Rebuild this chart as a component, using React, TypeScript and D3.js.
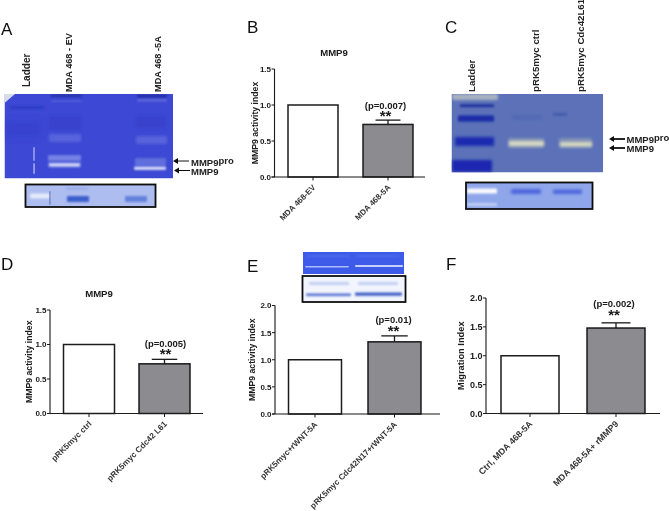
import React from "react";
import * as d3 from "d3";

// ---------- chart data ----------
const bCategories = ["MDA 468-EV", "MDA 468-5A"];
const bValues = [1.0, 0.73];
const bErrorTops = [1.0, 0.79];
const bTicks = [0, 0.5, 1.0, 1.5];

const dCategories = ["pRK5myc ctrl", "pRK5myc Cdc42 L61"];
const dValues = [1.0, 0.72];
const dErrorTops = [1.0, 0.785];
const dTicks = [0, 0.5, 1.0, 1.5];

const eCategories = ["pRK5myc+rWNT-5A", "pRK5myc Cdc42N17+rWNT-5A"];
const eValues = [1.0, 1.33];
const eErrorTops = [1.0, 1.44];
const eTicks = [0, 0.5, 1.0, 1.5, 2.0];

const fCategories = ["Ctrl, MDA 468-5A", "MDA 468-5A+ rMMP9"];
const fValues = [1.0, 1.48];
const fErrorTops = [1.0, 1.57];
const fTicks = [0, 0.5, 1.0, 1.5, 2.0];

const FONT = "'Liberation Sans', Arial, sans-serif";
const INK = "#1a1a1a";

type PanelProps = {
  categories: string[]; values: number[]; errorTops: number[]; ticks: number[];
  yMax: number; axisX: number; axisEnd: number; yTop: number; yBase: number;
  barLeft: number; barRight: number; barWidth: number;
  yLabel: string; yLabelX: number; title?: string; titleX?: number; titleY?: number;
  pText: string; pX: number; pY: number; starY: number;
  tickFont: number; catFont: number; labelFont: number; pFont: number;
};

function BarPanel(p: PanelProps) {
  const y = d3.scaleLinear().domain([0, p.yMax]).range([p.yBase, p.yTop]);
  const span = p.barRight - p.barLeft;
  const step = span - p.barWidth;
  const x = d3.scaleBand<string>()
    .domain(p.categories)
    .range([p.barLeft, p.barRight])
    .paddingInner(1 - p.barWidth / step)
    .paddingOuter(0);
  const fills = ["#ffffff", "#8c8c90"];
  const sw = 1.5;
  return (
    <g fontFamily={FONT} fill={INK}>
      {p.title && (
        <text x={p.titleX} y={p.titleY} textAnchor="middle" fontSize={9.6} fontWeight="bold">{p.title}</text>
      )}
      {p.categories.map((c, i) => {
        const bx = x(c)!;
        const cx = bx + x.bandwidth() / 2;
        const capW = x.bandwidth() / 4;
        return (
          <g key={c}>
            {p.errorTops[i] > p.values[i] && (
              <g stroke={INK} strokeWidth={sw - 0.2} fill="none">
                <line x1={cx} x2={cx} y1={y(p.values[i])} y2={y(p.errorTops[i])} />
                <line x1={cx - capW} x2={cx + capW} y1={y(p.errorTops[i])} y2={y(p.errorTops[i])} />
              </g>
            )}
            <rect x={bx} width={x.bandwidth()} y={y(p.values[i])} height={p.yBase - y(p.values[i])}
              fill={fills[i]} stroke={INK} strokeWidth={sw} />
            <line x1={cx} x2={cx} y1={p.yBase} y2={p.yBase + 3.5} stroke={INK} strokeWidth={1} />
            <text transform={`translate(${cx + 3},${p.yBase + 11}) rotate(-45)`} textAnchor="end"
              fontSize={p.catFont} fontWeight="bold" fill="#333">{c}</text>
          </g>
        );
      })}
      <line x1={p.axisX} x2={p.axisX} y1={p.yTop} y2={p.yBase} stroke={INK} strokeWidth={1.1} />
      <line x1={p.axisX - 3} x2={p.axisEnd} y1={p.yBase} y2={p.yBase} stroke={INK} strokeWidth={1.1} />
      {p.ticks.map((t) => (
        <g key={t}>
          <line x1={p.axisX - 3} x2={p.axisX} y1={y(t)} y2={y(t)} stroke={INK} strokeWidth={1} />
          <text x={p.axisX - 3.5} y={y(t) + p.tickFont * 0.36} textAnchor="end" fontSize={p.tickFont} fontWeight="bold">
            {d3.format(".1f")(t)}
          </text>
        </g>
      ))}
      <text transform={`translate(${p.yLabelX},${(p.yTop + p.yBase) / 2}) rotate(-90)`} textAnchor="middle"
        fontSize={p.labelFont} fontWeight="bold">{p.yLabel}</text>
      <text x={p.pX} y={p.pY} textAnchor="middle" fontSize={p.pFont} fontWeight="bold">{p.pText}</text>
      <text x={p.pX} y={p.starY} textAnchor="middle" fontSize={15} fontWeight="bold">**</text>
    </g>
  );
}

// ---------- gel artwork (photographic insets, not data) ----------
type Band = [number, number, number, number, string, number?, number?];

function Gel({ id, x, y, w, h, base, bands, border }:
  { id: string; x: number; y: number; w: number; h: number; base: string; bands: Band[]; border?: number }) {
  return (
    <g>
      <clipPath id={id}><rect x={x} y={y} width={w} height={h} /></clipPath>
      <g clipPath={`url(#${id})`}>
        <rect x={x} y={y} width={w} height={h} fill={base} />
        {bands.map((b, i) => (
          <rect key={i} x={b[0]} y={b[1]} width={b[2]} height={b[3]} fill={b[4]} opacity={b[5] ?? 1}
            filter={`url(#blur${b[6] ?? 1})`} rx={1} />
        ))}
      </g>
      {border && <rect x={x} y={y} width={w} height={h} fill="none" stroke="#111" strokeWidth={border} />}
    </g>
  );
}

const gelABands: Band[] = [
  [10, 106, 34, 3, "#2530b8", 0.55, 1],
  [5, 122, 36, 14, "#2f3ac4", 0.4, 3],
  [51, 94, 31, 3.5, "#2630a8", 0.8, 1],
  [51, 100, 31, 2, "#6a78e0", 0.45, 1],
  [49, 116, 32, 14, "#2e38c0", 0.35, 2],
  [49, 134, 32, 8, "#6e7ce4", 0.55, 2],
  [48, 155, 33, 6, "#8794ea", 0.75, 1],
  [48, 161, 33, 7, "#6472dc", 0.8, 1],
  [49, 163.5, 31, 2.8, "#eef1ff", 0.95, 1],
  [137, 94.5, 30, 3, "#1e2aa0", 0.9, 1],
  [137, 99, 30, 2.5, "#7c88e4", 0.55, 1],
  [136, 116, 30, 12, "#2e38c0", 0.35, 2],
  [136, 136, 31, 8, "#6e7ce4", 0.55, 2],
  [135, 158, 31, 8, "#717fe2", 0.7, 1],
  [134, 166.8, 32, 3, "#eef1ff", 0.95, 1],
  [33.5, 147, 1, 14, "#dfe6ff", 0.9, 0],
  [33.5, 163, 1.1, 11, "#dfe6ff", 0.9, 0],
];
const gelAStrip: Band[] = [
  [30, 193.5, 20, 5, "#eef2ff", 0.85, 1],
  [49.5, 191, 0.9, 14, "#2a3a90", 0.7, 0],
  [66, 187, 22, 3, "#90a4e8", 0.6, 1],
  [67, 196, 22, 6, "#3055c8", 0.9, 1],
  [125, 196, 22, 6, "#5578d8", 0.85, 1],
];
const gelCBands: Band[] = [
  [452, 94, 46, 6, "#c4cbc4", 0.75, 2],
  [460, 104.5, 34, 2.4, "#1c2a9a", 1, 1],
  [458, 115.5, 36, 6, "#1a2aa8", 1, 1],
  [455, 137, 39, 9, "#1c2ab0", 1, 2],
  [452, 160, 40, 12, "#1a28b0", 1, 2],
  [508, 138, 36, 10, "#a8b0b4", 0.5, 2],
  [509, 141, 35, 5, "#e6e6c6", 0.85, 2],
  [559, 138, 33, 10, "#a8b0b4", 0.5, 2],
  [560, 142, 32, 4.5, "#e6e6c6", 0.85, 2],
  [512, 115, 30, 5, "#4a5cb0", 0.3, 2],
  [553, 113.5, 14, 1.8, "#30409c", 0.7, 1],
];
const gelCStrip: Band[] = [
  [467, 188.5, 30, 5, "#ffffff", 0.95, 1],
  [467, 203, 30, 3, "#dfe7ff", 0.6, 1],
  [511, 189, 30, 5, "#3e55d8", 0.8, 2],
  [553, 189.5, 29, 4.5, "#3e55d8", 0.8, 2],
];
const gelETop: Band[] = [
  [305, 266, 44, 1.6, "#c8d4ff", 0.8, 0],
  [355, 265, 48, 2, "#d4deff", 0.9, 0],
  [306, 255, 44, 2, "#6a82f0", 0.4, 1],
  [356, 255, 44, 2, "#6a82f0", 0.4, 1],
];
const gelEStrip: Band[] = [
  [309, 282, 40, 3, "#b0c0ec", 0.7, 1],
  [358, 282, 40, 3, "#b0c0ec", 0.7, 1],
  [306, 293.5, 45, 2.6, "#4460cc", 0.9, 1],
  [355, 292.5, 47, 3.2, "#3454c4", 0.95, 1],
];

function Arrow({ x1, x2, y, w, head }: { x1: number; x2: number; y: number; w: number; head: number }) {
  return (
    <g fill="#111">
      <line x1={x1 + head} x2={x2} y1={y} y2={y} stroke="#111" strokeWidth={w} />
      <path d={`M${x1},${y} L${x1 + head},${y - head * 0.6} L${x1 + head},${y + head * 0.6} Z`} />
    </g>
  );
}

function VLabel({ x, y, children, size = 9.7 }: { x: number; y: number; children: string; size?: number }) {
  return (
    <text transform={`translate(${x},${y}) rotate(-90)`} fontFamily={FONT} fontSize={size} fontWeight="bold" fill="#222">
      {children}
    </text>
  );
}

function Letter({ x, y, children }: { x: number; y: number; children: string }) {
  return <text x={x} y={y} fontFamily={FONT} fontSize={17} fill="#111">{children}</text>;
}

function MmpLabels({ x, proY, y, size }: { x: number; proY: number; y: number; size: number }) {
  return (
    <g fontFamily={FONT} fontSize={size} fontWeight="bold" fill="#222">
      <text x={x} y={proY}>MMP9<tspan dy={-2}>pro</tspan></text>
      <text x={x} y={y}>MMP9</text>
    </g>
  );
}

export default function App() {
  return (
    <svg width={669} height={511} style={{ position: "fixed", left: 0, top: 0, background: "#fff" }}>
      <defs>
        <filter id="blur0" x="-20%" y="-100%" width="140%" height="300%"><feGaussianBlur stdDeviation={0.45} /></filter>
        <filter id="blur1" x="-20%" y="-100%" width="140%" height="300%"><feGaussianBlur stdDeviation={0.9} /></filter>
        <filter id="blur2" x="-30%" y="-100%" width="160%" height="300%"><feGaussianBlur stdDeviation={1.6} /></filter>
        <filter id="blur3" x="-30%" y="-100%" width="160%" height="300%"><feGaussianBlur stdDeviation={3.5} /></filter>
        <filter id="soft"><feGaussianBlur stdDeviation={0.25} /></filter>
      </defs>

      <g filter="url(#soft)">
        {/* A */}
        <Letter x={1} y={35}>A</Letter>
        <VLabel x={30.3} y={87} size={10}>Ladder</VLabel>
        <VLabel x={71.5} y={92} size={9.2}>MDA 468 - EV</VLabel>
        <VLabel x={161} y={92} size={9.2}>MDA 468 -5A</VLabel>
        <Gel id="ga" x={4.5} y={94} w={168.5} h={84.5} base="#3c48d4" bands={gelABands} />
        <path d="M4.5,94 L15,94 L4.5,103 Z" fill="#d8dcea" />
        <Gel id="gas" x={25.5} y={184.5} w={130} h={22.5} base="#aebdf0" bands={gelAStrip} border={1.8} />
        <Arrow x1={173} x2={189} y={161} w={1} head={5} />
        <Arrow x1={174} x2={190} y={170.5} w={1} head={5} />
        <MmpLabels x={191} proY={165.5} y={174.5} size={9.5} />

        {/* B */}
        <Letter x={247} y={33}>B</Letter>
        <BarPanel categories={bCategories} values={bValues} errorTops={bErrorTops} ticks={bTicks} yMax={1.5}
          axisX={274.5} axisEnd={425} yTop={69} yBase={177} barLeft={288} barRight={413} barWidth={50}
          yLabel="MMP9 activity index" yLabelX={258} title="MMP9" titleX={334} titleY={55.5}
          pText="(p=0.007)" pX={385.5} pY={109} starY={120.5} tickFont={8} catFont={8} labelFont={8.7} pFont={9.5} />

        {/* C */}
        <Letter x={445} y={33}>C</Letter>
        <VLabel x={475} y={92}>Ladder</VLabel>
        <VLabel x={539} y={92}>pRK5myc ctrl</VLabel>
        <VLabel x={584} y={92}>pRK5myc Cdc42L61</VLabel>
        <Gel id="gc" x={451.5} y={94} w={151.5} h={78.5} base="#5b71b8" bands={gelCBands} />
        <Gel id="gcs" x={466} y={182.5} w={126.5} h={26.5} base="#8fa7ea" bands={gelCStrip} border={1.8} />
        <Arrow x1={609} x2={625} y={139} w={1.8} head={5} />
        <Arrow x1={609} x2={625} y={148} w={1.8} head={5} />
        <MmpLabels x={626.5} proY={142.5} y={151.5} size={9.5} />

        {/* D */}
        <Letter x={1} y={270}>D</Letter>
        <BarPanel categories={dCategories} values={dValues} errorTops={dErrorTops} ticks={dTicks} yMax={1.5}
          axisX={50} axisEnd={203} yTop={310} yBase={413.5} barLeft={63.5} barRight={190} barWidth={51}
          yLabel="MMP9 activity index" yLabelX={32} title="MMP9" titleX={99} titleY={296.5}
          pText="(p=0.005)" pX={165.5} pY={347} starY={359} tickFont={8} catFont={8.2} labelFont={8.7} pFont={9.5} />

        {/* E */}
        <Letter x={247} y={272}>E</Letter>
        <Gel id="ge" x={303} y={252} w={101} h={22} base="#3c5ae8" bands={gelETop} />
        <Gel id="ges" x={302.5} y={276} w={103} h={26} base="#f2f5fd" bands={gelEStrip} border={1.8} />
        <BarPanel categories={eCategories} values={eValues} errorTops={eErrorTops} ticks={eTicks} yMax={2}
          axisX={275} axisEnd={440} yTop={305.5} yBase={414} barLeft={288.5} barRight={421} barWidth={53}
          yLabel="MMP9 activity index" yLabelX={255} pText="(p=0.01)" pX={393.5} pY={323} starY={336}
          tickFont={8} catFont={8.2} labelFont={8.7} pFont={9.5} />

        {/* F */}
        <Letter x={446} y={270}>F</Letter>
        <BarPanel categories={fCategories} values={fValues} errorTops={fErrorTops} ticks={fTicks} yMax={2}
          axisX={486} axisEnd={660} yTop={298} yBase={413.5} barLeft={501} barRight={645} barWidth={58}
          yLabel="Migration Index" yLabelX={464} pText="(p=0.002)" pX={614} pY={307} starY={320}
          tickFont={9} catFont={8.9} labelFont={9.3} pFont={9.5} />
      </g>
    </svg>
  );
}
